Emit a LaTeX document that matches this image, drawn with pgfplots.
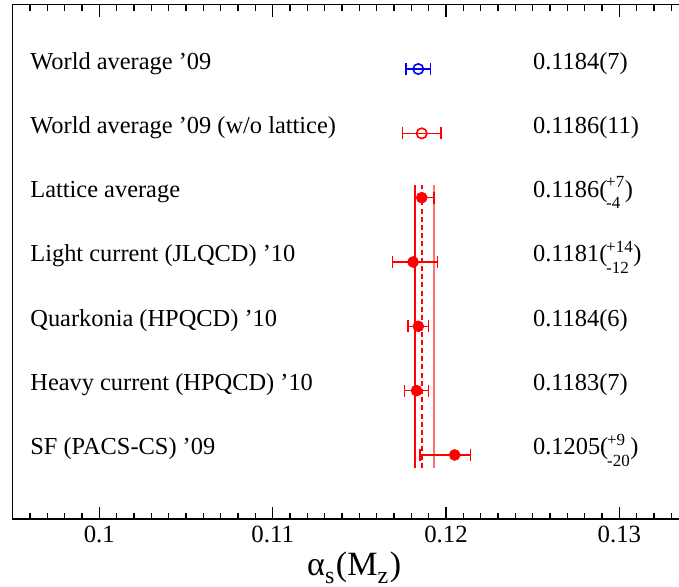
\documentclass[border=0pt]{standalone}
\usepackage{pgfplots}
\pgfplotsset{compat=1.18}
\usepackage{fontspec}
\setmainfont{Liberation Serif}
\newcommand{\ud}[2]{(\kern-0.05em\raisebox{-0.1ex}{\fontsize{8.5}{9}\selectfont\begin{tabular}{@{}l@{}}#1\\[1.6pt]#2\end{tabular}}\kern0.02em)}
\begin{document}
\begin{tikzpicture}
\begin{axis}[
  at={(0,0)}, anchor=south west,
  scale only axis, width=341.5pt, height=257.3pt,
  xmin=0.095, xmax=0.1344, ymin=0, ymax=8,
  axis line style={line width=0.8pt},
  ytick=\empty,
  xtick={0.1,0.11,0.12,0.13},
  xticklabels={0.1,0.11,0.12,0.13},
  minor xtick={0.096,0.097,0.098,0.099,0.101,0.102,0.103,0.104,0.105,0.106,0.107,0.108,0.109,
    0.111,0.112,0.113,0.114,0.115,0.116,0.117,0.118,0.119,
    0.121,0.122,0.123,0.124,0.125,0.126,0.127,0.128,0.129,
    0.131,0.132,0.133,0.134},
  tick align=inside,
  xtick pos=both,
  major tick length=6pt, minor tick length=3pt,
  tick style={black, line width=0.6pt},
  /pgf/number format/assume math mode=true,
  ticklabel style={font=\fontsize{12.4}{14}\selectfont},
  xlabel={α\raisebox{-0.55ex}{\fontsize{12}{13}\selectfont s}\kern0.8pt(M\raisebox{-0.55ex}{\fontsize{12}{13}\selectfont z}\kern0.8pt)},
  xlabel style={at={(axis description cs:0.5,0)}, anchor=base, yshift=-28pt, font=\fontsize{17}{19}\selectfont},
  error bars/x dir=both, error bars/x explicit,
  error bars/error bar style={line width=0.7pt},
  error bars/error mark options={rotate=90, mark size=3pt, line width=0.7pt},
]
% vertical band of the lattice average
\addplot[red, line width=0.8pt] coordinates {(0.1182,0.8) (0.1182,5.2)};
\addplot[red!55, line width=1pt] coordinates {(0.1193,0.8) (0.1193,5.2)};
\addplot[red, line width=0.8pt, dash pattern=on 2.5pt off 1.6pt] coordinates {(0.1186,0.8) (0.1186,5.2)};
% world averages
\addplot[blue, only marks, mark=o, mark size=2.6pt, mark options={fill=white, line width=0.8pt}]
  coordinates {(0.1184,7) +- (0.0007,0)};
\addplot[red, only marks, mark=o, mark size=2.6pt, mark options={fill=white, line width=0.8pt}]
  coordinates {(0.1186,6) +- (0.0011,0)};
% lattice
\addplot[red, only marks, mark=*, mark size=2.7pt]
  coordinates {
  (0.1186,5) += (0.0007,0) -= (0.0004,0)
  (0.1181,4) += (0.0014,0) -= (0.0012,0)
  (0.1184,3) += (0.0006,0) -= (0.0006,0)
  (0.1183,2) += (0.0007,0) -= (0.0007,0)
  (0.1205,1) += (0.0009,0) -= (0.0020,0)
  };
\begin{scope}[every node/.style={inner sep=0pt, anchor=base west, font=\fontsize{12.2}{14}\selectfont}]
\node at (axis cs:0.0960,7.0) {World average '09};
\node at (axis cs:0.0960,6.0) {World average '09 (w/o lattice)};
\node at (axis cs:0.0960,5.0) {Lattice average};
\node at (axis cs:0.0960,4.0) {Light current (JLQCD) '10};
\node at (axis cs:0.0960,3.0) {Quarkonia (HPQCD) '10};
\node at (axis cs:0.0960,2.0) {Heavy current (HPQCD) '10};
\node at (axis cs:0.0960,1.0) {SF (PACS-CS) '09};
\node at (axis cs:0.1250,7.0) {0.1184(7)};
\node at (axis cs:0.1250,6.0) {0.1186(11)};
\node at (axis cs:0.1250,5.0) {0.1186\ud{+7}{-4}};
\node at (axis cs:0.1250,4.0) {0.1181\ud{+14}{-12}};
\node at (axis cs:0.1250,3.0) {0.1184(6)};
\node at (axis cs:0.1250,2.0) {0.1183(7)};
\node at (axis cs:0.1250,1.0) {0.1205\ud{+9}{-20}};
\end{scope}
\end{axis}
\pgfresetboundingbox
\path (-6.33pt,-33.85pt) rectangle (333.17pt,259.65pt);
\end{tikzpicture}
\end{document}
